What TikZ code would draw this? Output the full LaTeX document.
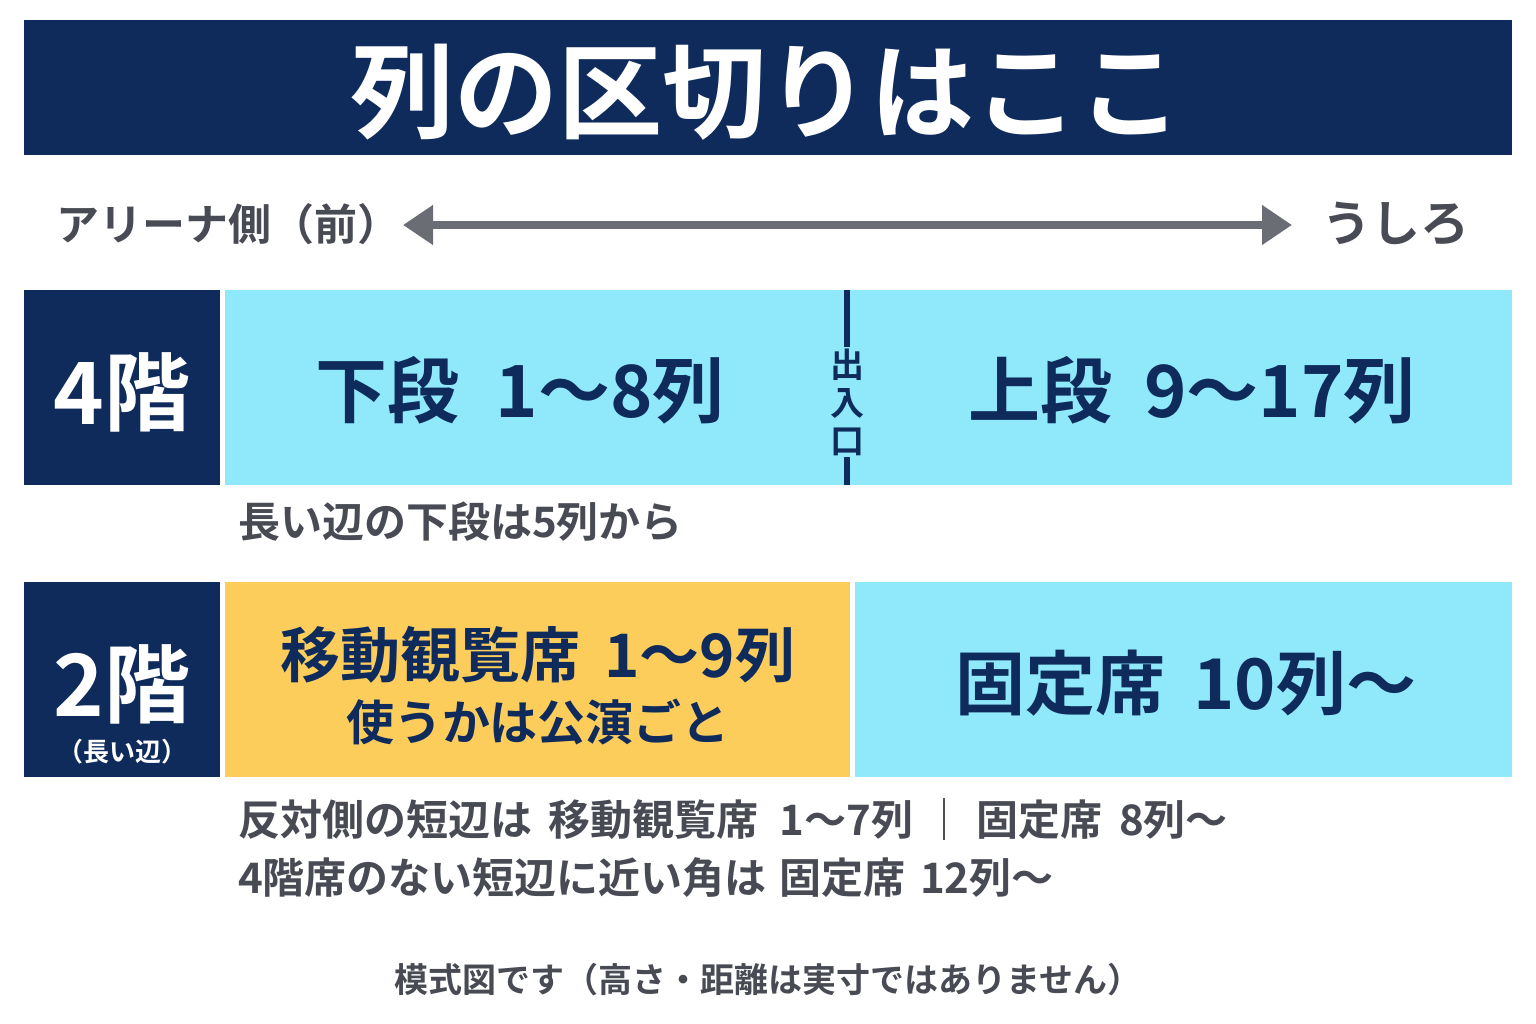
\documentclass[tikz,border=0pt]{standalone}
\usepackage{fontspec}
\setmainfont{Noto Sans CJK JP}[UprightFont={* Bold},BoldFont={* Bold}]
\usetikzlibrary{arrows.meta}
\definecolor{navy}{HTML}{0E2B5C}
\definecolor{cyanbox}{HTML}{8FE9FA}
\definecolor{yellowbox}{HTML}{FDCD5C}
\definecolor{txtgray}{HTML}{484B53}
\definecolor{arrgray}{HTML}{6A6D74}
\newcommand{\fs}[1]{\fontsize{#1}{#1}\selectfont}
\newcommand{\gap}[1]{\hspace{#1em}}
\tikzset{
  box/.style={rectangle, inner sep=0pt, outer sep=0pt, draw=none},
  lbl/.style={inner sep=0pt, outer sep=0pt},
}
\begin{document}
\begin{tikzpicture}[x=1pt,y=-1pt]
\useasboundingbox[fill=white] (0,0) rectangle (1536,1024);
% title
\node[box, fill=navy, minimum width=1488, minimum height=135] (title) at (768,87.5) {};
\node[lbl, text=white] (titletext) at (766,92) {\fs{104}列の区切りはここ};
% direction arrow
\node[lbl, text=txtgray, anchor=west] (front) at (56,224) {\fs{43}アリーナ側（前）};
\node[lbl, text=txtgray, anchor=west] (back) at (1322,224) {\fs{49}うしろ};
\coordinate (aL) at (403,225);
\coordinate (aR) at (1292,225);
\draw[arrgray, line width=8pt, {Triangle[length=30pt,width=38pt]}-{Triangle[length=30pt,width=38pt]}] (aL) -- (aR);
% 4F row
\node[box, fill=navy, minimum width=196, minimum height=195] (f4) at (122,387.5) {};
\node[box, fill=cyanbox, minimum width=1287, minimum height=195] (f4c) at (868.5,387.5) {};
\node[lbl, text=white] at (122,392) {\fs{86}4階};
\node[lbl, text=navy] (lower) at (520,390) {\fs{72}下段\gap{0.5}1～8列};
\node[lbl, text=navy] (upper) at (1192,390) {\fs{72}上段\gap{0.45}9～17列};
\node[lbl, text=navy, align=center, font={\fontsize{34}{38}\selectfont}] (door) at (847,402) {出\\入\\口};
\coordinate (dtop) at (847,290);
\coordinate (dbot) at (847,485);
\draw[navy, line width=6pt] (dtop) -- ([yshift=2pt]door.north);
\draw[navy, line width=6pt] ([yshift=-2pt]door.south) -- (dbot);
\node[lbl, text=txtgray, anchor=west] (note4) at (238,522) {\fs{42}長い辺の下段は5列から};
% 2F row
\node[box, fill=navy, minimum width=196, minimum height=195] (f2) at (122,679.5) {};
\node[box, fill=yellowbox, minimum width=625, minimum height=195] (f2y) at (537.5,679.5) {};
\node[box, fill=cyanbox, minimum width=657, minimum height=195] (f2c) at (1183.5,679.5) {};
\node[lbl, text=white] at (122,684) {\fs{86}2階};
\node[lbl, text=white] at (122,752) {\fs{26}（長い辺）};
\node[lbl, text=navy] (mov) at (538,655) {\fs{60}移動観覧席\gap{0.4}1～9列};
\node[lbl, text=navy] (use) at (538,722) {\fs{48}使うかは公演ごと};
\node[lbl, text=navy] (fix) at (1186,683) {\fs{70}固定席\gap{0.4}10列～};
% notes
\node[lbl, text=txtgray, anchor=west] (n1) at (238,820) {\fs{42}反対側の短辺は\gap{0.4}移動観覧席\gap{0.5}1～7列\gap{0.25}｜\gap{0.25}固定席\gap{0.4}8列～};
\node[lbl, text=txtgray, anchor=west] (n2) at (238,878) {\fs{42}4階席のない短辺に近い角は\gap{0.3}固定席\gap{0.35}12列～};
\node[lbl, text=txtgray] (foot) at (768,980) {\fs{34}模式図です（高さ・距離は実寸ではありません）};
\end{tikzpicture}
\end{document}
